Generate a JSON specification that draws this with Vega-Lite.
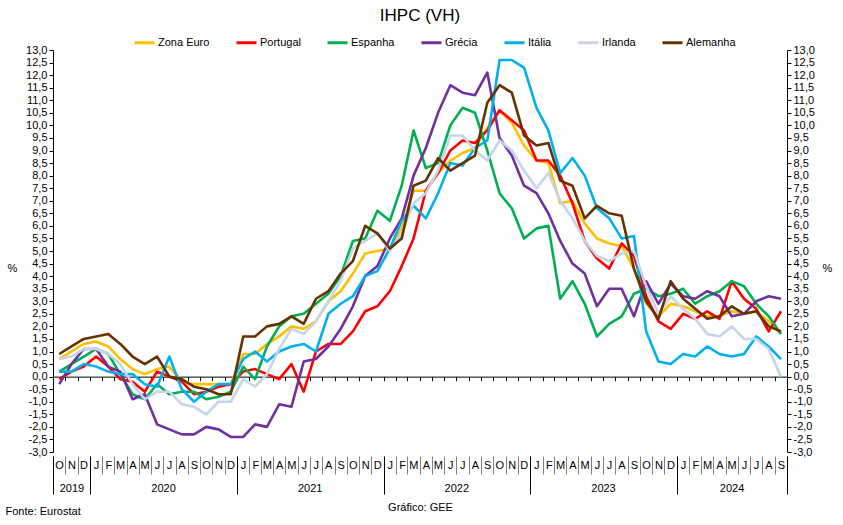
{
"$schema": "https://vega.github.io/schema/vega-lite/v6.json",
"width": 734, "height": 402,
"autosize": {"type": "none"},
"padding": {"left": 53, "top": 50, "right": 56, "bottom": 73},
"background": "white",
"title": {"text": "IHPC (VH)", "fontSize": 17, "fontWeight": "normal", "color": "#000", "anchor": "middle", "frame": "group", "offset": 6},
"config": {"view": {"stroke": null}, "font": "Liberation Sans Narrow, Arial Narrow, Liberation Sans, sans-serif"},
"resolve": {"axis": {"x": "independent", "y": "independent"}},
"data": {"values": [
{"month":"2019-10","country":"Zona Euro","value":0.7},{"month":"2019-11","country":"Zona Euro","value":1.0},{"month":"2019-12","country":"Zona Euro","value":1.3},
{"month":"2020-01","country":"Zona Euro","value":1.4},{"month":"2020-02","country":"Zona Euro","value":1.2},{"month":"2020-03","country":"Zona Euro","value":0.7},{"month":"2020-04","country":"Zona Euro","value":0.3},{"month":"2020-05","country":"Zona Euro","value":0.1},{"month":"2020-06","country":"Zona Euro","value":0.3},{"month":"2020-07","country":"Zona Euro","value":0.4},{"month":"2020-08","country":"Zona Euro","value":-0.2},{"month":"2020-09","country":"Zona Euro","value":-0.3},{"month":"2020-10","country":"Zona Euro","value":-0.3},{"month":"2020-11","country":"Zona Euro","value":-0.3},{"month":"2020-12","country":"Zona Euro","value":-0.3},
{"month":"2021-01","country":"Zona Euro","value":0.9},{"month":"2021-02","country":"Zona Euro","value":0.9},{"month":"2021-03","country":"Zona Euro","value":1.3},{"month":"2021-04","country":"Zona Euro","value":1.6},{"month":"2021-05","country":"Zona Euro","value":2.0},{"month":"2021-06","country":"Zona Euro","value":1.9},{"month":"2021-07","country":"Zona Euro","value":2.2},{"month":"2021-08","country":"Zona Euro","value":3.0},{"month":"2021-09","country":"Zona Euro","value":3.4},{"month":"2021-10","country":"Zona Euro","value":4.1},{"month":"2021-11","country":"Zona Euro","value":4.9},{"month":"2021-12","country":"Zona Euro","value":5.0},
{"month":"2022-01","country":"Zona Euro","value":5.1},{"month":"2022-02","country":"Zona Euro","value":5.9},{"month":"2022-03","country":"Zona Euro","value":7.4},{"month":"2022-04","country":"Zona Euro","value":7.4},{"month":"2022-05","country":"Zona Euro","value":8.1},{"month":"2022-06","country":"Zona Euro","value":8.6},{"month":"2022-07","country":"Zona Euro","value":8.9},{"month":"2022-08","country":"Zona Euro","value":9.1},{"month":"2022-09","country":"Zona Euro","value":9.9},{"month":"2022-10","country":"Zona Euro","value":10.6},{"month":"2022-11","country":"Zona Euro","value":10.1},{"month":"2022-12","country":"Zona Euro","value":9.2},
{"month":"2023-01","country":"Zona Euro","value":8.6},{"month":"2023-02","country":"Zona Euro","value":8.5},{"month":"2023-03","country":"Zona Euro","value":6.9},{"month":"2023-04","country":"Zona Euro","value":7.0},{"month":"2023-05","country":"Zona Euro","value":6.1},{"month":"2023-06","country":"Zona Euro","value":5.5},{"month":"2023-07","country":"Zona Euro","value":5.3},{"month":"2023-08","country":"Zona Euro","value":5.2},{"month":"2023-09","country":"Zona Euro","value":4.3},{"month":"2023-10","country":"Zona Euro","value":2.9},{"month":"2023-11","country":"Zona Euro","value":2.4},{"month":"2023-12","country":"Zona Euro","value":2.9},
{"month":"2024-01","country":"Zona Euro","value":2.8},{"month":"2024-02","country":"Zona Euro","value":2.6},{"month":"2024-03","country":"Zona Euro","value":2.4},{"month":"2024-04","country":"Zona Euro","value":2.4},{"month":"2024-05","country":"Zona Euro","value":2.6},{"month":"2024-06","country":"Zona Euro","value":2.5},{"month":"2024-07","country":"Zona Euro","value":2.6},{"month":"2024-08","country":"Zona Euro","value":2.2},{"month":"2024-09","country":"Zona Euro","value":1.7},

{"month":"2019-10","country":"Portugal","value":-0.1},{"month":"2019-11","country":"Portugal","value":0.2},{"month":"2019-12","country":"Portugal","value":0.4},
{"month":"2020-01","country":"Portugal","value":0.8},{"month":"2020-02","country":"Portugal","value":0.4},{"month":"2020-03","country":"Portugal","value":-0.1},{"month":"2020-04","country":"Portugal","value":-0.2},{"month":"2020-05","country":"Portugal","value":-0.6},{"month":"2020-06","country":"Portugal","value":0.2},{"month":"2020-07","country":"Portugal","value":0.0},{"month":"2020-08","country":"Portugal","value":-0.2},{"month":"2020-09","country":"Portugal","value":-0.7},{"month":"2020-10","country":"Portugal","value":-0.6},{"month":"2020-11","country":"Portugal","value":-0.4},{"month":"2020-12","country":"Portugal","value":-0.3},
{"month":"2021-01","country":"Portugal","value":0.2},{"month":"2021-02","country":"Portugal","value":0.3},{"month":"2021-03","country":"Portugal","value":0.1},{"month":"2021-04","country":"Portugal","value":-0.1},{"month":"2021-05","country":"Portugal","value":0.5},{"month":"2021-06","country":"Portugal","value":-0.6},{"month":"2021-07","country":"Portugal","value":1.0},{"month":"2021-08","country":"Portugal","value":1.3},{"month":"2021-09","country":"Portugal","value":1.3},{"month":"2021-10","country":"Portugal","value":1.8},{"month":"2021-11","country":"Portugal","value":2.6},{"month":"2021-12","country":"Portugal","value":2.8},
{"month":"2022-01","country":"Portugal","value":3.4},{"month":"2022-02","country":"Portugal","value":4.4},{"month":"2022-03","country":"Portugal","value":5.5},{"month":"2022-04","country":"Portugal","value":7.4},{"month":"2022-05","country":"Portugal","value":8.1},{"month":"2022-06","country":"Portugal","value":9.0},{"month":"2022-07","country":"Portugal","value":9.4},{"month":"2022-08","country":"Portugal","value":9.3},{"month":"2022-09","country":"Portugal","value":9.8},{"month":"2022-10","country":"Portugal","value":10.6},{"month":"2022-11","country":"Portugal","value":10.2},{"month":"2022-12","country":"Portugal","value":9.8},
{"month":"2023-01","country":"Portugal","value":8.6},{"month":"2023-02","country":"Portugal","value":8.6},{"month":"2023-03","country":"Portugal","value":8.0},{"month":"2023-04","country":"Portugal","value":6.9},{"month":"2023-05","country":"Portugal","value":5.4},{"month":"2023-06","country":"Portugal","value":4.7},{"month":"2023-07","country":"Portugal","value":4.3},{"month":"2023-08","country":"Portugal","value":5.3},{"month":"2023-09","country":"Portugal","value":4.8},{"month":"2023-10","country":"Portugal","value":3.2},{"month":"2023-11","country":"Portugal","value":2.2},{"month":"2023-12","country":"Portugal","value":1.9},
{"month":"2024-01","country":"Portugal","value":2.5},{"month":"2024-02","country":"Portugal","value":2.3},{"month":"2024-03","country":"Portugal","value":2.6},{"month":"2024-04","country":"Portugal","value":2.3},{"month":"2024-05","country":"Portugal","value":3.8},{"month":"2024-06","country":"Portugal","value":3.1},{"month":"2024-07","country":"Portugal","value":2.7},{"month":"2024-08","country":"Portugal","value":1.8},{"month":"2024-09","country":"Portugal","value":2.6},

{"month":"2019-10","country":"Espanha","value":0.2},{"month":"2019-11","country":"Espanha","value":0.5},{"month":"2019-12","country":"Espanha","value":0.8},
{"month":"2020-01","country":"Espanha","value":1.1},{"month":"2020-02","country":"Espanha","value":0.9},{"month":"2020-03","country":"Espanha","value":0.1},{"month":"2020-04","country":"Espanha","value":-0.7},{"month":"2020-05","country":"Espanha","value":-0.9},{"month":"2020-06","country":"Espanha","value":-0.3},{"month":"2020-07","country":"Espanha","value":-0.7},{"month":"2020-08","country":"Espanha","value":-0.6},{"month":"2020-09","country":"Espanha","value":-0.6},{"month":"2020-10","country":"Espanha","value":-0.9},{"month":"2020-11","country":"Espanha","value":-0.8},{"month":"2020-12","country":"Espanha","value":-0.6},
{"month":"2021-01","country":"Espanha","value":0.4},{"month":"2021-02","country":"Espanha","value":-0.1},{"month":"2021-03","country":"Espanha","value":1.2},{"month":"2021-04","country":"Espanha","value":2.0},{"month":"2021-05","country":"Espanha","value":2.4},{"month":"2021-06","country":"Espanha","value":2.5},{"month":"2021-07","country":"Espanha","value":2.9},{"month":"2021-08","country":"Espanha","value":3.3},{"month":"2021-09","country":"Espanha","value":4.0},{"month":"2021-10","country":"Espanha","value":5.4},{"month":"2021-11","country":"Espanha","value":5.5},{"month":"2021-12","country":"Espanha","value":6.6},
{"month":"2022-01","country":"Espanha","value":6.2},{"month":"2022-02","country":"Espanha","value":7.6},{"month":"2022-03","country":"Espanha","value":9.8},{"month":"2022-04","country":"Espanha","value":8.3},{"month":"2022-05","country":"Espanha","value":8.5},{"month":"2022-06","country":"Espanha","value":10.0},{"month":"2022-07","country":"Espanha","value":10.7},{"month":"2022-08","country":"Espanha","value":10.5},{"month":"2022-09","country":"Espanha","value":9.0},{"month":"2022-10","country":"Espanha","value":7.3},{"month":"2022-11","country":"Espanha","value":6.7},{"month":"2022-12","country":"Espanha","value":5.5},
{"month":"2023-01","country":"Espanha","value":5.9},{"month":"2023-02","country":"Espanha","value":6.0},{"month":"2023-03","country":"Espanha","value":3.1},{"month":"2023-04","country":"Espanha","value":3.8},{"month":"2023-05","country":"Espanha","value":2.9},{"month":"2023-06","country":"Espanha","value":1.6},{"month":"2023-07","country":"Espanha","value":2.1},{"month":"2023-08","country":"Espanha","value":2.4},{"month":"2023-09","country":"Espanha","value":3.3},{"month":"2023-10","country":"Espanha","value":3.5},{"month":"2023-11","country":"Espanha","value":3.2},{"month":"2023-12","country":"Espanha","value":3.3},
{"month":"2024-01","country":"Espanha","value":3.5},{"month":"2024-02","country":"Espanha","value":2.9},{"month":"2024-03","country":"Espanha","value":3.2},{"month":"2024-04","country":"Espanha","value":3.4},{"month":"2024-05","country":"Espanha","value":3.8},{"month":"2024-06","country":"Espanha","value":3.6},{"month":"2024-07","country":"Espanha","value":2.9},{"month":"2024-08","country":"Espanha","value":2.4},{"month":"2024-09","country":"Espanha","value":1.7},

{"month":"2019-10","country":"Grécia","value":-0.3},{"month":"2019-11","country":"Grécia","value":0.5},{"month":"2019-12","country":"Grécia","value":1.1},
{"month":"2020-01","country":"Grécia","value":1.1},{"month":"2020-02","country":"Grécia","value":0.4},{"month":"2020-03","country":"Grécia","value":0.2},{"month":"2020-04","country":"Grécia","value":-0.9},{"month":"2020-05","country":"Grécia","value":-0.7},{"month":"2020-06","country":"Grécia","value":-1.9},{"month":"2020-07","country":"Grécia","value":-2.1},{"month":"2020-08","country":"Grécia","value":-2.3},{"month":"2020-09","country":"Grécia","value":-2.3},{"month":"2020-10","country":"Grécia","value":-2.0},{"month":"2020-11","country":"Grécia","value":-2.1},{"month":"2020-12","country":"Grécia","value":-2.4},
{"month":"2021-01","country":"Grécia","value":-2.4},{"month":"2021-02","country":"Grécia","value":-1.9},{"month":"2021-03","country":"Grécia","value":-2.0},{"month":"2021-04","country":"Grécia","value":-1.1},{"month":"2021-05","country":"Grécia","value":-1.2},{"month":"2021-06","country":"Grécia","value":0.6},{"month":"2021-07","country":"Grécia","value":0.7},{"month":"2021-08","country":"Grécia","value":1.2},{"month":"2021-09","country":"Grécia","value":1.9},{"month":"2021-10","country":"Grécia","value":2.8},{"month":"2021-11","country":"Grécia","value":4.0},{"month":"2021-12","country":"Grécia","value":4.4},
{"month":"2022-01","country":"Grécia","value":5.5},{"month":"2022-02","country":"Grécia","value":6.3},{"month":"2022-03","country":"Grécia","value":8.0},{"month":"2022-04","country":"Grécia","value":9.1},{"month":"2022-05","country":"Grécia","value":10.5},{"month":"2022-06","country":"Grécia","value":11.6},{"month":"2022-07","country":"Grécia","value":11.3},{"month":"2022-08","country":"Grécia","value":11.2},{"month":"2022-09","country":"Grécia","value":12.1},{"month":"2022-10","country":"Grécia","value":9.5},{"month":"2022-11","country":"Grécia","value":8.8},{"month":"2022-12","country":"Grécia","value":7.6},
{"month":"2023-01","country":"Grécia","value":7.3},{"month":"2023-02","country":"Grécia","value":6.5},{"month":"2023-03","country":"Grécia","value":5.4},{"month":"2023-04","country":"Grécia","value":4.5},{"month":"2023-05","country":"Grécia","value":4.1},{"month":"2023-06","country":"Grécia","value":2.8},{"month":"2023-07","country":"Grécia","value":3.5},{"month":"2023-08","country":"Grécia","value":3.5},{"month":"2023-09","country":"Grécia","value":2.4},{"month":"2023-10","country":"Grécia","value":3.8},{"month":"2023-11","country":"Grécia","value":2.9},{"month":"2023-12","country":"Grécia","value":3.7},
{"month":"2024-01","country":"Grécia","value":3.2},{"month":"2024-02","country":"Grécia","value":3.1},{"month":"2024-03","country":"Grécia","value":3.4},{"month":"2024-04","country":"Grécia","value":3.2},{"month":"2024-05","country":"Grécia","value":2.4},{"month":"2024-06","country":"Grécia","value":2.5},{"month":"2024-07","country":"Grécia","value":3.0},{"month":"2024-08","country":"Grécia","value":3.2},{"month":"2024-09","country":"Grécia","value":3.1},

{"month":"2019-10","country":"Itália","value":0.2},{"month":"2019-11","country":"Itália","value":0.2},{"month":"2019-12","country":"Itália","value":0.5},
{"month":"2020-01","country":"Itália","value":0.4},{"month":"2020-02","country":"Itália","value":0.2},{"month":"2020-03","country":"Itália","value":0.1},{"month":"2020-04","country":"Itália","value":0.1},{"month":"2020-05","country":"Itália","value":-0.3},{"month":"2020-06","country":"Itália","value":-0.4},{"month":"2020-07","country":"Itália","value":0.8},{"month":"2020-08","country":"Itália","value":-0.5},{"month":"2020-09","country":"Itália","value":-1.0},{"month":"2020-10","country":"Itália","value":-0.6},{"month":"2020-11","country":"Itália","value":-0.3},{"month":"2020-12","country":"Itália","value":-0.3},
{"month":"2021-01","country":"Itália","value":0.7},{"month":"2021-02","country":"Itália","value":1.0},{"month":"2021-03","country":"Itália","value":0.6},{"month":"2021-04","country":"Itália","value":1.0},{"month":"2021-05","country":"Itália","value":1.2},{"month":"2021-06","country":"Itália","value":1.3},{"month":"2021-07","country":"Itália","value":1.0},{"month":"2021-08","country":"Itália","value":2.5},{"month":"2021-09","country":"Itália","value":2.9},{"month":"2021-10","country":"Itália","value":3.2},{"month":"2021-11","country":"Itália","value":4.0},{"month":"2021-12","country":"Itália","value":4.2},
{"month":"2022-01","country":"Itália","value":5.1},{"month":"2022-02","country":"Itália","value":6.2},{"month":"2022-03","country":"Itália","value":6.8},{"month":"2022-04","country":"Itália","value":6.3},{"month":"2022-05","country":"Itália","value":7.3},{"month":"2022-06","country":"Itália","value":8.5},{"month":"2022-07","country":"Itália","value":8.4},{"month":"2022-08","country":"Itália","value":9.1},{"month":"2022-09","country":"Itália","value":9.4},{"month":"2022-10","country":"Itália","value":12.6},{"month":"2022-11","country":"Itália","value":12.6},{"month":"2022-12","country":"Itália","value":12.3},
{"month":"2023-01","country":"Itália","value":10.7},{"month":"2023-02","country":"Itália","value":9.8},{"month":"2023-03","country":"Itália","value":8.1},{"month":"2023-04","country":"Itália","value":8.7},{"month":"2023-05","country":"Itália","value":8.0},{"month":"2023-06","country":"Itália","value":6.7},{"month":"2023-07","country":"Itália","value":6.3},{"month":"2023-08","country":"Itália","value":5.5},{"month":"2023-09","country":"Itália","value":5.6},{"month":"2023-10","country":"Itália","value":1.8},{"month":"2023-11","country":"Itália","value":0.6},{"month":"2023-12","country":"Itália","value":0.5},
{"month":"2024-01","country":"Itália","value":0.9},{"month":"2024-02","country":"Itália","value":0.8},{"month":"2024-03","country":"Itália","value":1.2},{"month":"2024-04","country":"Itália","value":0.9},{"month":"2024-05","country":"Itália","value":0.8},{"month":"2024-06","country":"Itália","value":0.9},{"month":"2024-07","country":"Itália","value":1.6},{"month":"2024-08","country":"Itália","value":1.2},{"month":"2024-09","country":"Itália","value":0.7},

{"month":"2019-10","country":"Irlanda","value":0.7},{"month":"2019-11","country":"Irlanda","value":0.8},{"month":"2019-12","country":"Irlanda","value":1.1},
{"month":"2020-01","country":"Irlanda","value":1.1},{"month":"2020-02","country":"Irlanda","value":0.9},{"month":"2020-03","country":"Irlanda","value":0.5},{"month":"2020-04","country":"Irlanda","value":-0.3},{"month":"2020-05","country":"Irlanda","value":-0.9},{"month":"2020-06","country":"Irlanda","value":-0.6},{"month":"2020-07","country":"Irlanda","value":-0.6},{"month":"2020-08","country":"Irlanda","value":-1.1},{"month":"2020-09","country":"Irlanda","value":-1.2},{"month":"2020-10","country":"Irlanda","value":-1.5},{"month":"2020-11","country":"Irlanda","value":-1.0},{"month":"2020-12","country":"Irlanda","value":-1.0},
{"month":"2021-01","country":"Irlanda","value":-0.1},{"month":"2021-02","country":"Irlanda","value":-0.4},{"month":"2021-03","country":"Irlanda","value":0.1},{"month":"2021-04","country":"Irlanda","value":1.1},{"month":"2021-05","country":"Irlanda","value":1.9},{"month":"2021-06","country":"Irlanda","value":1.7},{"month":"2021-07","country":"Irlanda","value":2.2},{"month":"2021-08","country":"Irlanda","value":3.0},{"month":"2021-09","country":"Irlanda","value":3.8},{"month":"2021-10","country":"Irlanda","value":5.1},{"month":"2021-11","country":"Irlanda","value":5.4},{"month":"2021-12","country":"Irlanda","value":5.7},
{"month":"2022-01","country":"Irlanda","value":5.0},{"month":"2022-02","country":"Irlanda","value":5.7},{"month":"2022-03","country":"Irlanda","value":6.9},{"month":"2022-04","country":"Irlanda","value":7.3},{"month":"2022-05","country":"Irlanda","value":8.2},{"month":"2022-06","country":"Irlanda","value":9.6},{"month":"2022-07","country":"Irlanda","value":9.6},{"month":"2022-08","country":"Irlanda","value":9.0},{"month":"2022-09","country":"Irlanda","value":8.6},{"month":"2022-10","country":"Irlanda","value":9.4},{"month":"2022-11","country":"Irlanda","value":9.0},{"month":"2022-12","country":"Irlanda","value":8.2},
{"month":"2023-01","country":"Irlanda","value":7.5},{"month":"2023-02","country":"Irlanda","value":8.1},{"month":"2023-03","country":"Irlanda","value":7.0},{"month":"2023-04","country":"Irlanda","value":6.3},{"month":"2023-05","country":"Irlanda","value":5.4},{"month":"2023-06","country":"Irlanda","value":4.8},{"month":"2023-07","country":"Irlanda","value":4.6},{"month":"2023-08","country":"Irlanda","value":4.9},{"month":"2023-09","country":"Irlanda","value":5.0},{"month":"2023-10","country":"Irlanda","value":3.6},{"month":"2023-11","country":"Irlanda","value":2.5},{"month":"2023-12","country":"Irlanda","value":3.2},
{"month":"2024-01","country":"Irlanda","value":2.7},{"month":"2024-02","country":"Irlanda","value":2.3},{"month":"2024-03","country":"Irlanda","value":1.7},{"month":"2024-04","country":"Irlanda","value":1.6},{"month":"2024-05","country":"Irlanda","value":2.0},{"month":"2024-06","country":"Irlanda","value":1.5},{"month":"2024-07","country":"Irlanda","value":1.5},{"month":"2024-08","country":"Irlanda","value":1.1},{"month":"2024-09","country":"Irlanda","value":0.0},

{"month":"2019-10","country":"Alemanha","value":0.9},{"month":"2019-11","country":"Alemanha","value":1.2},{"month":"2019-12","country":"Alemanha","value":1.5},
{"month":"2020-01","country":"Alemanha","value":1.6},{"month":"2020-02","country":"Alemanha","value":1.7},{"month":"2020-03","country":"Alemanha","value":1.3},{"month":"2020-04","country":"Alemanha","value":0.8},{"month":"2020-05","country":"Alemanha","value":0.5},{"month":"2020-06","country":"Alemanha","value":0.8},{"month":"2020-07","country":"Alemanha","value":0.0},{"month":"2020-08","country":"Alemanha","value":-0.1},{"month":"2020-09","country":"Alemanha","value":-0.4},{"month":"2020-10","country":"Alemanha","value":-0.5},{"month":"2020-11","country":"Alemanha","value":-0.7},{"month":"2020-12","country":"Alemanha","value":-0.7},
{"month":"2021-01","country":"Alemanha","value":1.6},{"month":"2021-02","country":"Alemanha","value":1.6},{"month":"2021-03","country":"Alemanha","value":2.0},{"month":"2021-04","country":"Alemanha","value":2.1},{"month":"2021-05","country":"Alemanha","value":2.4},{"month":"2021-06","country":"Alemanha","value":2.1},{"month":"2021-07","country":"Alemanha","value":3.1},{"month":"2021-08","country":"Alemanha","value":3.4},{"month":"2021-09","country":"Alemanha","value":4.1},{"month":"2021-10","country":"Alemanha","value":4.6},{"month":"2021-11","country":"Alemanha","value":6.0},{"month":"2021-12","country":"Alemanha","value":5.7},
{"month":"2022-01","country":"Alemanha","value":5.1},{"month":"2022-02","country":"Alemanha","value":5.5},{"month":"2022-03","country":"Alemanha","value":7.6},{"month":"2022-04","country":"Alemanha","value":7.8},{"month":"2022-05","country":"Alemanha","value":8.7},{"month":"2022-06","country":"Alemanha","value":8.2},{"month":"2022-07","country":"Alemanha","value":8.5},{"month":"2022-08","country":"Alemanha","value":8.8},{"month":"2022-09","country":"Alemanha","value":10.9},{"month":"2022-10","country":"Alemanha","value":11.6},{"month":"2022-11","country":"Alemanha","value":11.3},{"month":"2022-12","country":"Alemanha","value":9.6},
{"month":"2023-01","country":"Alemanha","value":9.2},{"month":"2023-02","country":"Alemanha","value":9.3},{"month":"2023-03","country":"Alemanha","value":7.8},{"month":"2023-04","country":"Alemanha","value":7.6},{"month":"2023-05","country":"Alemanha","value":6.3},{"month":"2023-06","country":"Alemanha","value":6.8},{"month":"2023-07","country":"Alemanha","value":6.5},{"month":"2023-08","country":"Alemanha","value":6.4},{"month":"2023-09","country":"Alemanha","value":4.3},{"month":"2023-10","country":"Alemanha","value":3.0},{"month":"2023-11","country":"Alemanha","value":2.3},{"month":"2023-12","country":"Alemanha","value":3.8},
{"month":"2024-01","country":"Alemanha","value":3.1},{"month":"2024-02","country":"Alemanha","value":2.7},{"month":"2024-03","country":"Alemanha","value":2.3},{"month":"2024-04","country":"Alemanha","value":2.4},{"month":"2024-05","country":"Alemanha","value":2.8},{"month":"2024-06","country":"Alemanha","value":2.5},{"month":"2024-07","country":"Alemanha","value":2.6},{"month":"2024-08","country":"Alemanha","value":2.0},{"month":"2024-09","country":"Alemanha","value":1.8}
]},
"layer": [
{
"mark": {"type": "line", "strokeWidth": 2.6, "strokeJoin": "round"},
"encoding": {
"x": {"field": "month", "type": "temporal", "timeUnit": "utcyearmonth", "bandPosition": 0.5,
"scale": {"type": "utc", "domain": [{"year": 2019, "month": 10, "date": 1, "utc": true}, {"year": 2024, "month": 10, "date": 1, "utc": true}]}, "axis": null},
"y": {"field": "value", "type": "quantitative", "scale": {"domain": [-3, 13], "nice": false, "zero": false},
"axis": {"orient": "left", "values": [-3,-2.5,-2,-1.5,-1,-0.5,0,0.5,1,1.5,2,2.5,3,3.5,4,4.5,5,5.5,6,6.5,7,7.5,8,8.5,9,9.5,10,10.5,11,11.5,12,12.5,13],
"labelExpr": "replace(replace(format(datum.value, '.1f'), '.', ','), '\u2212', '-')", "labelOverlap": false, "labelFlush": false,
"tickSize": 4, "labelPadding": 2, "domainColor": "#000", "tickColor": "#000", "labelColor": "#000", "labelFontSize": 11, "grid": false,
"title": "%", "titleAngle": 0, "titleX": -41, "titleY": 218, "titleAlign": "center", "titleBaseline": "middle", "titleFontSize": 11, "titleFontWeight": "normal", "titleColor": "#000"}},
"color": {"field": "country", "type": "nominal",
"scale": {"domain": ["Zona Euro", "Portugal", "Espanha", "Grécia", "Itália", "Irlanda", "Alemanha"], "range": ["#FFC000", "#FF0000", "#00B050", "#7030A0", "#00B0F0", "#C5D5EA", "#663300"]},
"legend": {"orient": "none", "legendX": 80, "legendY": -19, "direction": "horizontal", "title": null, "symbolType": "stroke", "symbolSize": 400, "symbolStrokeWidth": 3, "labelFontSize": 11, "labelColor": "#000", "labelOffset": 2, "columnPadding": 20}}
}
},
{
"mark": {"type": "point", "opacity": 0},
"encoding": {
"x": {"field": "month", "type": "temporal", "scale": {"type": "utc", "domain": [{"year": 2019, "month": 10, "date": 1, "utc": true}, {"year": 2024, "month": 10, "date": 1, "utc": true}]},
"axis": {"orient": "bottom", "offset": 4, "domain": false, "grid": false, "tickCount": {"interval": "month", "step": 1}, "tickSize": 18, "tickColor": "#808080",
"labelExpr": "(utcyear(datum.value) == 2024 && utcmonth(datum.value) == 9) ? '' : substring('JFMAMJJASOND', utcmonth(datum.value), utcmonth(datum.value) + 1)",
"labelOffset": 6, "labelPadding": -15, "labelBaseline": "top", "labelAlign": "center", "labelFlush": false, "labelOverlap": false, "labelBound": false, "labelFontSize": 11, "labelColor": "#000", "title": null}},
"y": {"field": "value", "type": "quantitative", "scale": {"domain": [-3, 13], "nice": false, "zero": false},
"axis": {"orient": "right", "values": [-3,-2.5,-2,-1.5,-1,-0.5,0,0.5,1,1.5,2,2.5,3,3.5,4,4.5,5,5.5,6,6.5,7,7.5,8,8.5,9,9.5,10,10.5,11,11.5,12,12.5,13],
"labelExpr": "replace(replace(format(datum.value, '.1f'), '.', ','), '\u2212', '-')", "labelOverlap": false, "labelFlush": false,
"tickSize": 4, "labelPadding": 2, "domainColor": "#000", "tickColor": "#000", "labelColor": "#000", "labelFontSize": 11, "grid": false,
"title": "%", "titleAngle": 0, "titleX": 40, "titleY": 218, "titleAlign": "center", "titleBaseline": "middle", "titleFontSize": 11, "titleFontWeight": "normal", "titleColor": "#000"}}
}
},
{
"mark": {"type": "point", "opacity": 0},
"encoding": {
"x": {"field": "month", "type": "temporal", "scale": {"type": "utc", "domain": [{"year": 2019, "month": 10, "date": 1, "utc": true}, {"year": 2024, "month": 10, "date": 1, "utc": true}]},
"axis": {"orient": "bottom", "offset": -75.375, "domain": true, "domainColor": "#000", "domainWidth": 1, "ticks": true, "tickCount": {"interval": "month", "step": 1}, "tickSize": 4, "tickColor": "#000", "labels": false, "grid": false, "title": null}},
"y": {"field": "value", "type": "quantitative", "scale": {"domain": [-3, 13], "nice": false, "zero": false}, "axis": null}
}
},
{
"mark": {"type": "point", "opacity": 0},
"encoding": {
"x": {"field": "month", "type": "temporal", "scale": {"type": "utc", "domain": [{"year": 2019, "month": 10, "date": 1, "utc": true}, {"year": 2024, "month": 10, "date": 1, "utc": true}]},
"axis": {"orient": "bottom", "offset": 4, "domain": false, "grid": false,
"values": [{"year": 2019, "month": 10, "date": 1, "utc": true}, {"year": 2020, "month": 1, "date": 1, "utc": true}, {"year": 2021, "month": 1, "date": 1, "utc": true}, {"year": 2022, "month": 1, "date": 1, "utc": true}, {"year": 2023, "month": 1, "date": 1, "utc": true}, {"year": 2024, "month": 1, "date": 1, "utc": true}, {"year": 2024, "month": 10, "date": 1, "utc": true}],
"tickSize": 38, "tickColor": "#000", "labels": false,
"title": "Fonte: Eurostat", "titleAnchor": "start", "titleAlign": "left", "titleX": -48, "titleY": 49, "titleBaseline": "top", "titleFontSize": 11, "titleFontWeight": "normal", "titleColor": "#000"}},
"y": {"field": "value", "type": "quantitative", "scale": {"domain": [-3, 13], "nice": false, "zero": false}, "axis": null}
}
},
{
"mark": {"type": "point", "opacity": 0},
"encoding": {
"x": {"field": "month", "type": "temporal", "scale": {"type": "utc", "domain": [{"year": 2019, "month": 10, "date": 1, "utc": true}, {"year": 2024, "month": 10, "date": 1, "utc": true}]},
"axis": {"orient": "bottom", "offset": 4, "domain": false, "ticks": false, "grid": false,
"values": [{"year": 2019, "month": 11, "date": 16, "utc": true}, {"year": 2020, "month": 7, "date": 1, "utc": true}, {"year": 2021, "month": 7, "date": 1, "utc": true}, {"year": 2022, "month": 7, "date": 1, "utc": true}, {"year": 2023, "month": 7, "date": 1, "utc": true}, {"year": 2024, "month": 5, "date": 16, "utc": true}],
"labelExpr": "utcFormat(datum.value, '%Y')", "labelPadding": 26, "labelBaseline": "top", "labelFontSize": 11, "labelColor": "#000", "labelFlush": false, "labelOverlap": false,
"title": "Gráfico: GEE", "titleFontSize": 11, "titleFontWeight": "normal", "titlePadding": 8, "titleColor": "#000"}},
"y": {"field": "value", "type": "quantitative", "scale": {"domain": [-3, 13], "nice": false, "zero": false}, "axis": null}
}
}
]
}
